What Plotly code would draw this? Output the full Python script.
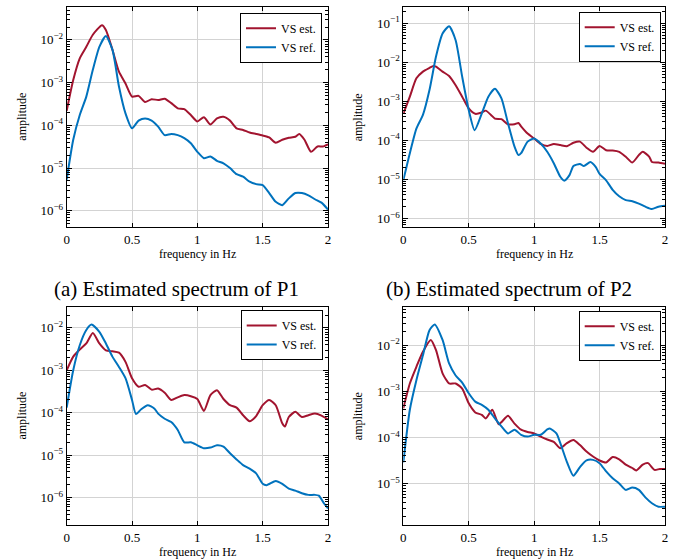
import plotly.graph_objects as go

# ---------------- data ----------------
# Panel (top-left)
p1_est_f = [0, 0.05, 0.1, 0.15, 0.2, 0.27, 0.3, 0.35, 0.4, 0.45, 0.5, 0.55, 0.6, 0.65, 0.7, 0.75, 0.8, 0.85, 0.9, 0.95,
            1.0, 1.05, 1.1, 1.15, 1.2, 1.25, 1.3, 1.35, 1.4, 1.45, 1.5, 1.55, 1.6, 1.65, 1.7, 1.75, 1.78, 1.82, 1.87,
            1.92, 1.96, 2.0]
p1_est_a = [2.2e-4, 1.15e-3, 3.7e-3, 6.9e-3, 1.32e-2, 2.2e-2, 1.7e-2, 5.9e-3, 1.8e-3, 9.5e-4, 4.7e-4, 4.9e-4, 3.5e-4,
            4.1e-4, 3.9e-4, 4.2e-4, 3.3e-4, 2.5e-4, 2.4e-4, 1.74e-4, 1.23e-4, 1.55e-4, 1.05e-4, 1.45e-4, 1.58e-4,
            1.29e-4, 8.5e-5, 7.8e-5, 6.8e-5, 6.3e-5, 5.8e-5, 5.2e-5, 3.9e-5, 4.6e-5, 5.1e-5, 5.4e-5, 6.3e-5, 4.6e-5,
            2.4e-5, 3.2e-5, 3.2e-5, 3.6e-5]
p1_ref_f = [0, 0.05, 0.1, 0.15, 0.2, 0.25, 0.3, 0.35, 0.4, 0.45, 0.5, 0.55, 0.6, 0.65, 0.7, 0.75, 0.8, 0.85, 0.9, 0.95,
            1.0, 1.05, 1.1, 1.15, 1.2, 1.25, 1.3, 1.35, 1.4, 1.45, 1.5, 1.55, 1.6, 1.65, 1.7, 1.75, 1.8, 1.85, 1.9,
            1.95, 2.0]
p1_ref_a = [5.4e-6, 4.6e-5, 1.74e-4, 4.7e-4, 2.0e-3, 6.9e-3, 1.23e-2, 5.9e-3, 8.1e-4, 1.9e-4, 8.5e-5, 1.29e-4, 1.45e-4,
            1.29e-4, 9.3e-5, 5.9e-5, 6.3e-5, 5.9e-5, 5.0e-5, 3.8e-5, 2.4e-5, 1.7e-5, 1.86e-5, 1.48e-5, 1.29e-5,
            1.0e-5, 7.2e-6, 6.3e-6, 4.8e-6, 4.2e-6, 4.0e-6, 2.6e-6, 1.62e-6, 1.35e-6, 1.95e-6, 2.6e-6, 2.6e-6,
            2.3e-6, 1.86e-6, 1.55e-6, 1.07e-6]

# Panel (top-right)
p2_est_f = [0, 0.05, 0.1, 0.15, 0.2, 0.23, 0.25, 0.3, 0.35, 0.4, 0.45, 0.5, 0.55, 0.6, 0.63, 0.67, 0.7, 0.75, 0.8, 0.85,
            0.88, 0.9, 0.95, 1.0, 1.05, 1.1, 1.15, 1.2, 1.25, 1.3, 1.35, 1.4, 1.45, 1.5, 1.55, 1.6, 1.65, 1.7, 1.75,
            1.8, 1.83, 1.88, 1.9, 1.95, 2.0]
p2_est_a = [4.8e-4, 1.32e-3, 3.9e-3, 5.8e-3, 7.2e-3, 8.1e-3, 7.8e-3, 5.8e-3, 4.5e-3, 2.6e-3, 1.32e-3, 6.6e-4, 4.8e-4,
            5.2e-4, 5.8e-4, 4.5e-4, 3.6e-4, 3.5e-4, 2.6e-4, 2.6e-4, 2.8e-4, 2.3e-4, 1.5e-4, 1.12e-4, 8.1e-5, 7.2e-5,
            8.1e-5, 7.6e-5, 7.1e-5, 8.7e-5, 9.3e-5, 6.5e-5, 5.1e-5, 7.2e-5, 5.6e-5, 5.5e-5, 5.1e-5, 3.8e-5, 2.7e-5,
            4.2e-5, 5.1e-5, 3.8e-5, 2.8e-5, 2.7e-5, 2.5e-5]
p2_ref_f = [0, 0.05, 0.1, 0.15, 0.2, 0.25, 0.3, 0.35, 0.4, 0.45, 0.5, 0.545, 0.6, 0.65, 0.7, 0.75, 0.8, 0.85, 0.88, 0.9,
            0.95, 1.0, 1.05, 1.1, 1.15, 1.2, 1.23, 1.27, 1.3, 1.35, 1.38, 1.43, 1.47, 1.5, 1.55, 1.6, 1.65, 1.7, 1.75,
            1.8, 1.85, 1.9, 1.95, 2.0]
p2_ref_a = [9.5e-6, 4.7e-5, 2.0e-4, 4.5e-4, 1.95e-3, 1.41e-2, 5.5e-2, 8.5e-2, 3.7e-2, 4.3e-3, 6.0e-4, 1.82e-4, 4.9e-4,
            1.32e-3, 2.1e-3, 1.2e-3, 2.75e-4, 6.9e-5, 4.2e-5, 4.7e-5, 9.3e-5, 1.12e-4, 8.3e-5, 5.1e-5, 2.6e-5,
            1.17e-5, 9.3e-6, 1.29e-5, 2.2e-5, 2.5e-5, 2.2e-5, 2.8e-5, 2.1e-5, 1.38e-5, 9.5e-6, 5.4e-6, 3.7e-6,
            2.95e-6, 2.75e-6, 2.4e-6, 2.0e-6, 1.74e-6, 2.0e-6, 2.1e-6]

# Panel (bottom-left)
p3_est_f = [0, 0.05, 0.1, 0.15, 0.2, 0.25, 0.3, 0.35, 0.4, 0.45, 0.5, 0.55, 0.6, 0.65, 0.7, 0.75, 0.8, 0.85, 0.9, 0.95,
            1.0, 1.05, 1.1, 1.15, 1.2, 1.25, 1.3, 1.35, 1.4, 1.45, 1.5, 1.55, 1.6, 1.65, 1.67, 1.7, 1.75, 1.8, 1.85,
            1.9, 1.95, 2.0]
p3_est_a = [1.0e-3, 2.1e-3, 3.1e-3, 4.3e-3, 7.6e-3, 4.3e-3, 2.95e-3, 2.8e-3, 2.6e-3, 1.58e-3, 6.5e-4, 4.1e-4, 4.5e-4,
            3.5e-4, 3.7e-4, 2.95e-4, 2.0e-4, 2.3e-4, 2.6e-4, 2.45e-4, 2.1e-4, 1.1e-4, 2.6e-4, 3.4e-4, 2.1e-4, 1.5e-4,
            1.32e-4, 8.7e-5, 6.3e-5, 8.3e-5, 1.5e-4, 2.0e-4, 1.5e-4, 5.6e-5, 4.7e-5, 7.9e-5, 1.05e-4, 7.9e-5, 8.7e-5,
            9.5e-5, 8.5e-5, 6.9e-5]
p3_ref_f = [0, 0.05, 0.1, 0.15, 0.19, 0.25, 0.3, 0.35, 0.4, 0.45, 0.5, 0.53, 0.57, 0.62, 0.67, 0.7, 0.75, 0.8, 0.85,
            0.9, 0.95, 1.0, 1.05, 1.1, 1.15, 1.2, 1.25, 1.3, 1.35, 1.4, 1.45, 1.5, 1.53, 1.6, 1.65, 1.7, 1.75, 1.8,
            1.85, 1.9, 1.93, 1.97, 2.0]
p3_ref_a = [1.32e-4, 1.0e-3, 3.9e-3, 8.9e-3, 1.2e-2, 8.1e-3, 4.3e-3, 2.1e-3, 1.2e-3, 6.5e-4, 2.0e-4, 9.3e-5, 1.2e-4,
            1.5e-4, 1.26e-4, 9.5e-5, 7.2e-5, 6.0e-5, 3.9e-5, 2.0e-5, 2.0e-5, 1.7e-5, 1.45e-5, 1.5e-5, 1.7e-5, 1.58e-5,
            1.1e-5, 7.9e-6, 5.8e-6, 4.8e-6, 3.7e-6, 2.1e-6, 1.95e-6, 2.45e-6, 2.1e-6, 1.62e-6, 1.45e-6, 1.26e-6,
            1.15e-6, 1.15e-6, 1.1e-6, 7.2e-7, 5.5e-7]

# Panel (bottom-right)
p4_est_f = [0, 0.05, 0.1, 0.15, 0.21, 0.25, 0.3, 0.35, 0.4, 0.45, 0.5, 0.55, 0.6, 0.63, 0.68, 0.73, 0.8, 0.85, 0.9,
            0.95, 1.0, 1.05, 1.1, 1.15, 1.2, 1.25, 1.3, 1.35, 1.4, 1.45, 1.5, 1.55, 1.6, 1.65, 1.7, 1.75, 1.78, 1.83,
            1.87, 1.92, 1.96, 2.0]
p4_est_a = [4.3e-4, 1.48e-3, 3.4e-3, 7.2e-3, 1.29e-2, 7.8e-3, 2.45e-3, 1.48e-3, 1.48e-3, 1.15e-3, 5.5e-4, 3.5e-4,
            3.1e-4, 2.6e-4, 4.0e-4, 1.95e-4, 2.95e-4, 2.0e-4, 1.48e-4, 1.32e-4, 1.23e-4, 1.05e-4, 9.1e-5, 8.1e-5,
            5.9e-5, 7.6e-5, 8.9e-5, 6.9e-5, 5.0e-5, 3.9e-5, 3.2e-5, 2.9e-5, 3.8e-5, 3.4e-5, 2.6e-5, 2.2e-5, 1.95e-5,
            2.6e-5, 2.8e-5, 2.0e-5, 2.1e-5, 2.1e-5]
p4_ref_f = [0, 0.05, 0.1, 0.15, 0.2, 0.24, 0.3, 0.35, 0.4, 0.45, 0.5, 0.55, 0.6, 0.65, 0.7, 0.75, 0.8, 0.85, 0.9, 0.95,
            1.0, 1.05, 1.1, 1.12, 1.17, 1.2, 1.25, 1.3, 1.35, 1.4, 1.45, 1.5, 1.55, 1.6, 1.65, 1.7, 1.75, 1.8, 1.85,
            1.9, 1.95, 2.0]
p4_ref_a = [2.9e-5, 4.0e-4, 1.74e-3, 6.0e-3, 2.1e-2, 2.8e-2, 1.29e-2, 4.0e-3, 2.2e-3, 1.55e-3, 9.1e-4, 6.0e-4, 5.1e-4,
            4.0e-4, 2.6e-4, 1.74e-4, 1.23e-4, 1.48e-4, 1.15e-4, 1.05e-4, 1.15e-4, 1.15e-4, 1.5e-4, 1.58e-4, 1.23e-4,
            7.6e-5, 3.0e-5, 1.5e-5, 2.3e-5, 3.2e-5, 3.3e-5, 2.8e-5, 1.86e-5, 1.32e-5, 1.02e-5, 7.4e-6, 8.3e-6,
            7.4e-6, 5.1e-6, 3.8e-6, 3.2e-6, 3.2e-6]

series_names = ["VS est.", "VS ref."]
captions = ["(a) Estimated spectrum of P1", "(b) Estimated spectrum of P2"]
x_title = "frequency in Hz"
y_title = "amplitude"
x_tick_vals = [0, 0.5, 1, 1.5, 2]
x_tick_text = ["0", "0.5", "1", "1.5", "2"]
y_tick_exps = [-1, -2, -3, -4, -5, -6, -7]

# ---------------- styling ----------------
RED = "#A2142F"
BLUE = "#0072BD"
FONT = "Liberation Serif"
W, H = 673, 560

# minor tick positions on the log axes (2..9 x 10^k)
minor_vals = [m * 10.0 ** e for e in y_tick_exps for m in range(2, 10)]

panels = [
    dict(est=(p1_est_f, p1_est_a), ref=(p1_ref_f, p1_ref_a), box=(66.7, 328.0, 7.0, 227.0), yr=(-6.38, -1.23),
         leg=(322.0, 12.7)),
    dict(est=(p2_est_f, p2_est_a), ref=(p2_ref_f, p2_ref_a), box=(403.3, 665.0, 7.0, 227.0), yr=(-6.22, -0.58),
         leg=(660.7, 11.7)),
    dict(est=(p3_est_f, p3_est_a), ref=(p3_ref_f, p3_ref_a), box=(66.7, 328.0, 306.7, 525.0), yr=(-6.65, -1.5),
         leg=(322.7, 310.0)),
    dict(est=(p4_est_f, p4_est_a), ref=(p4_ref_f, p4_ref_a), box=(403.3, 665.0, 306.7, 525.0), yr=(-5.89, -1.17),
         leg=(660.7, 310.7)),
]

fig = go.Figure()
layout = dict(
    width=W, height=H, margin=dict(l=0, r=0, t=0, b=0, autoexpand=False),
    paper_bgcolor="white", plot_bgcolor="white",
    font=dict(family=FONT, size=13, color="black"),
    annotations=[],
)

for i, p in enumerate(panels, start=1):
    sfx = "" if i == 1 else str(i)
    legname = "legend" if i == 1 else f"legend{i}"
    for (fx, ay), name, col in [(p["est"], series_names[0], RED), (p["ref"], series_names[1], BLUE)]:
        fig.add_trace(go.Scatter(
            x=fx, y=ay, mode="lines", name=name,
            line=dict(color=col, width=2, shape="spline", smoothing=0.6),
            xaxis=f"x{sfx}", yaxis=f"y{sfx}", legend=legname, showlegend=True,
        ))
    x0, x1, y0, y1 = p["box"]
    layout[f"xaxis{sfx}"] = dict(
        domain=[x0 / W, x1 / W], range=[0, 2], anchor=f"y{sfx}", automargin=False,
        tickvals=x_tick_vals, ticktext=x_tick_text,
        ticks="inside", ticklen=4, tickcolor="black", mirror="ticks",
        showline=True, linecolor="black", linewidth=1,
        showgrid=True, gridcolor="#d3d3d3", gridwidth=1.3, zeroline=False,
        tickfont=dict(size=13),
    )
    layout[f"yaxis{sfx}"] = dict(
        domain=[1 - y1 / H, 1 - y0 / H], type="log", range=list(p["yr"]), anchor=f"x{sfx}", automargin=False,
        tickvals=[10.0 ** e for e in y_tick_exps],
        ticktext=[f"10<sup>\u2212{-e}</sup>" for e in y_tick_exps],
        ticks="inside", ticklen=5, tickcolor="black", mirror="ticks",
        minor=dict(tickvals=minor_vals, ticks="inside", ticklen=3, tickcolor="black", showgrid=False),
        showline=True, linecolor="black", linewidth=1,
        showgrid=True, gridcolor="#d3d3d3", gridwidth=1.3, zeroline=False,
        tickfont=dict(size=13),
    )
    # axis titles as annotations
    layout["annotations"].append(dict(
        text=x_title, x=(x0 + x1) / 2 / W, y=1 - (y1 + 27) / H, xref="paper", yref="paper",
        xanchor="center", yanchor="middle", showarrow=False, font=dict(family=FONT, size=12),
    ))
    layout["annotations"].append(dict(
        text=y_title, x=(x0 - 45) / W, y=1 - (y0 + y1) / 2 / H, xref="paper", yref="paper",
        xanchor="center", yanchor="middle", showarrow=False, textangle=-90, font=dict(family=FONT, size=12),
    ))
    lx, ly = p["leg"]
    layout[legname] = dict(
        x=lx / W, y=1 - ly / H, xanchor="right", yanchor="top",
        bgcolor="white", bordercolor="black", borderwidth=1,
        font=dict(family=FONT, size=12), tracegroupgap=0, itemwidth=30,
    )

for txt, cx in zip(captions, [176.7, 509.0]):
    layout["annotations"].append(dict(
        text=txt, x=cx / W, y=1 - 289 / H, xref="paper", yref="paper",
        xanchor="center", yanchor="middle", showarrow=False,
        font=dict(family=FONT, size=21, color="black"),
    ))

fig.update_layout(**layout)
fig.write_html("out.html", config={"displayModeBar": False},
               post_script="document.body.style.margin='0';")
